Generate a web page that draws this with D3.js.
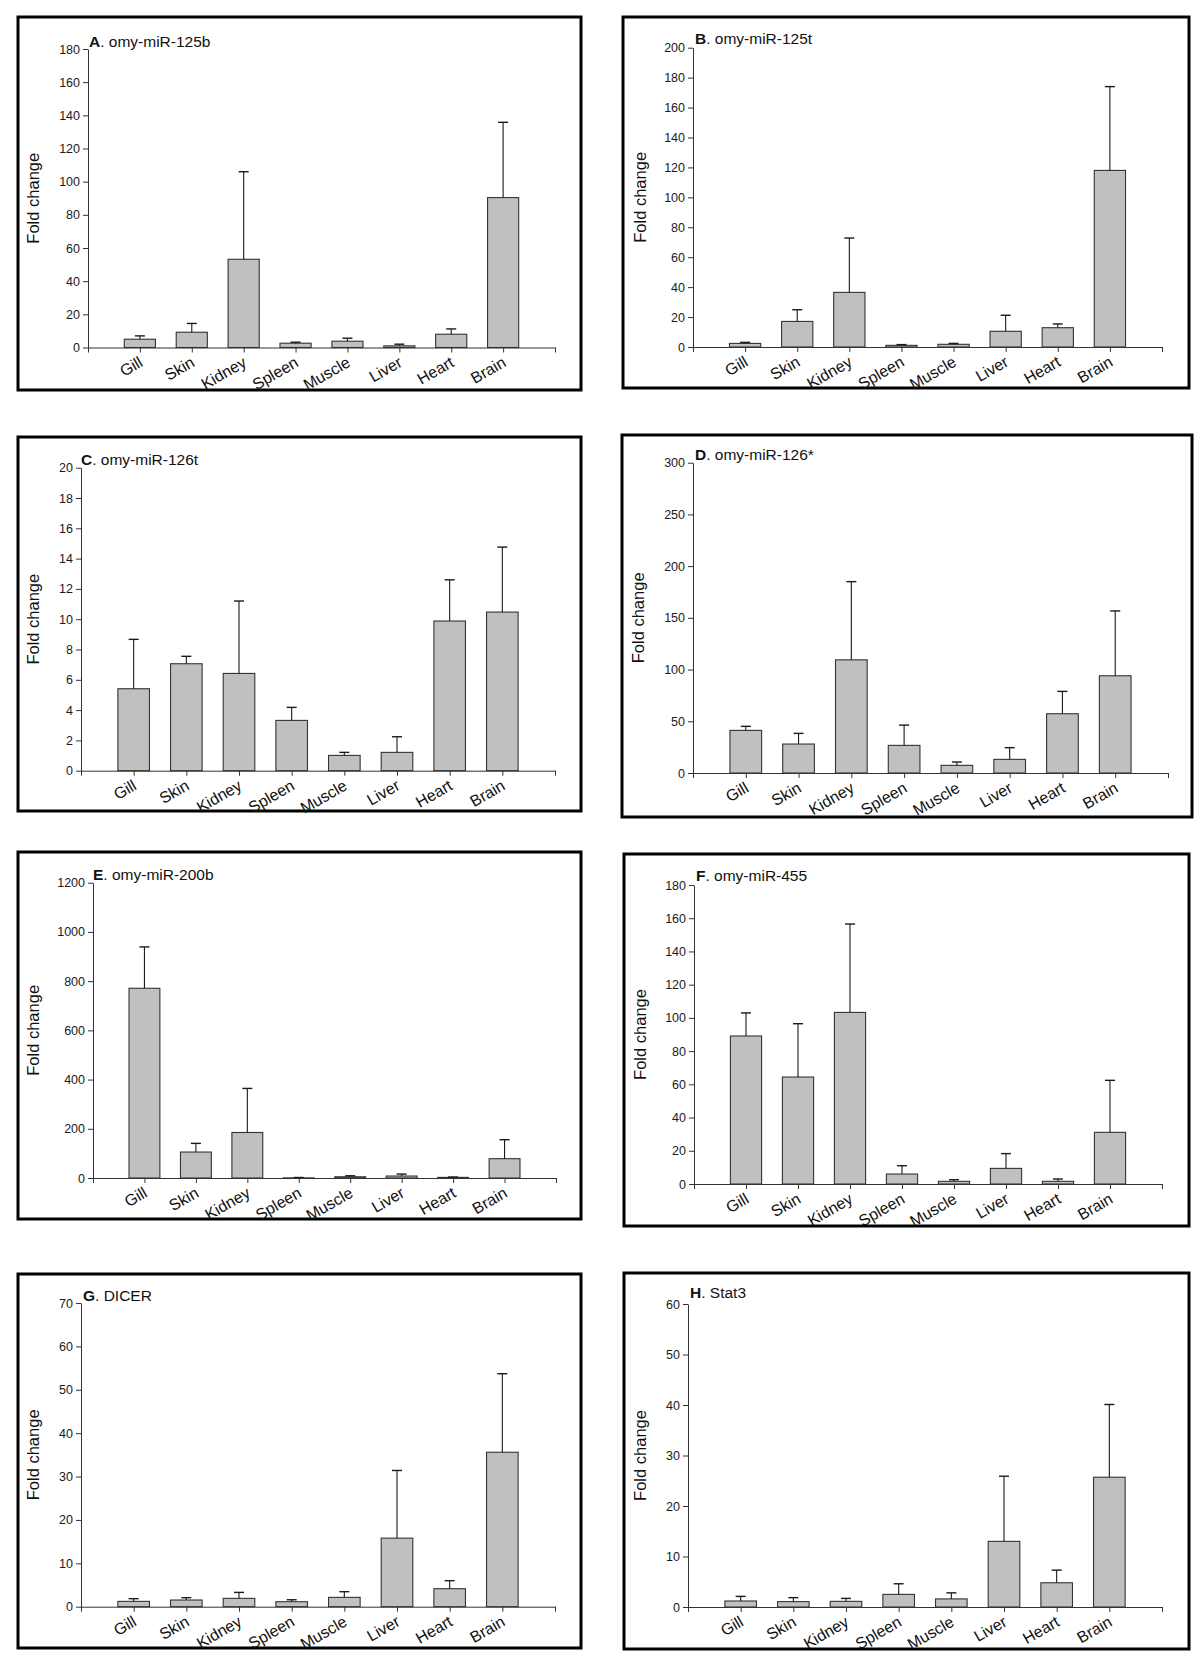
<!DOCTYPE html>
<html lang="en">
<head>
    <meta charset="UTF-8">
    <title>Tissue expression of miRNAs, DICER and Stat3</title>
    <script src="https://d3js.org/d3.v7.min.js"></script>
    <style>
        body { margin: 0; background: #fff; }
        text { font-family: "Liberation Sans", Arial, Helvetica, sans-serif; fill: #111; }
        .axis path, .axis line { stroke: #333; }
        .axis text { font-size: 12.5px; fill: #1a1a1a; }
    </style>
</head>
<body>
    <svg id="chart" width="1200" height="1665"></svg>

    <script>
        // tissues on the x axis, same for all panels
        const tissues = ["Gill", "Skin", "Kidney", "Spleen", "Muscle", "Liver", "Heart", "Brain"];

        // panel letters and gene names
        const letters = ["A", "B", "C", "D", "E", "F", "G", "H"];
        const genes = ["omy-miR-125b", "omy-miR-125t", "omy-miR-126t", "omy-miR-126*",
                       "omy-miR-200b", "omy-miR-455", "DICER", "Stat3"];

        // mean fold change and upper error (mean + SE) per tissue
        const mir125b = [5.0, 9.2, 53.2, 2.6, 3.8, 1.0, 8.0, 90.4];
        const mir125bErr = [7.0, 14.5, 106, 3.2, 5.6, 2.0, 11.2, 135.8];
        const mir125t = [2.4, 17.1, 36.5, 1.1, 1.8, 10.5, 12.9, 118];
        const mir125tErr = [3.1, 24.9, 72.8, 1.6, 2.4, 21.2, 15.4, 174];
        const mir126t = [5.41, 7.06, 6.42, 3.32, 1.01, 1.21, 9.88, 10.47];
        const mir126tErr = [8.67, 7.55, 11.2, 4.18, 1.21, 2.24, 12.6, 14.76];
        const mir126s = [41.2, 28, 109.4, 26.7, 7.4, 13.2, 57.3, 94];
        const mir126sErr = [45.1, 38.3, 185, 46.3, 10.6, 24.5, 78.9, 156.7];
        const mir200b = [771, 105.5, 185, 0.5, 5, 8, 2.5, 78.5];
        const mir200bErr = [939, 140.7, 364, 2, 9, 16, 4, 155.6];
        const mir455 = [89.1, 64.4, 103.3, 6, 1.6, 9.4, 1.6, 31.1];
        const mir455Err = [103, 96.5, 156.5, 11, 2.6, 18.3, 3, 62.4];
        const dicer = [1.23, 1.54, 1.92, 1.15, 2.15, 15.8, 4.15, 35.6];
        const dicerErr = [1.85, 2.08, 3.3, 1.6, 3.46, 31.4, 6.0, 53.7];
        const stat3 = [1.19, 1.06, 1.12, 2.5, 1.6, 13.0, 4.8, 25.7];
        const stat3Err = [2.1, 1.85, 1.7, 4.6, 2.8, 25.9, 7.3, 40.1];

        // y axis top value and tick step per panel
        const yMax = [180, 200, 20, 300, 1200, 180, 70, 60];
        const yStep = [20, 20, 2, 50, 200, 20, 10, 10];

        const means = [mir125b, mir125t, mir126t, mir126s, mir200b, mir455, dicer, stat3];
        const errs = [mir125bErr, mir125tErr, mir126tErr, mir126sErr, mir200bErr, mir455Err, dicerErr, stat3Err];

        // page layout of each panel: frame box, plot area, label positions
        const layout = [
            { box: [18, 17, 581, 390], left: 88, right: 555, bottom: 347.5, top: 49, tx: 89, ty: 47, lx: 33 },
            { box: [623, 17, 1189, 388], left: 693, right: 1162, bottom: 347, top: 47.7, tx: 695, ty: 44, lx: 640 },
            { box: [18, 437, 581, 811], left: 81, right: 555, bottom: 770.7, top: 467.7, tx: 81, ty: 465, lx: 33 },
            { box: [622, 435, 1192, 817], left: 693, right: 1168, bottom: 773, top: 462.7, tx: 695, ty: 460, lx: 638 },
            { box: [18, 852, 581, 1219], left: 93, right: 556, bottom: 1178, top: 882.7, tx: 93, ty: 880, lx: 33 },
            { box: [624, 854, 1189, 1226], left: 694, right: 1162, bottom: 1184, top: 885, tx: 696, ty: 881, lx: 640 },
            { box: [18, 1274, 581, 1648], left: 81, right: 555, bottom: 1606.7, top: 1303, tx: 83, ty: 1301, lx: 33 },
            { box: [624, 1273, 1189, 1649], left: 688, right: 1162, bottom: 1607, top: 1304, tx: 690, ty: 1298, lx: 640 }
        ];

        const svg = d3.select("#chart");

        layout.forEach(function (p, i) {
            const g = svg.append("g");
            const vals = means[i];
            const upper = errs[i];

            // frame round the panel
            g.append("rect")
                .attr("x", p.box[0])
                .attr("y", p.box[1])
                .attr("width", p.box[2] - p.box[0])
                .attr("height", p.box[3] - p.box[1])
                .attr("fill", "none")
                .attr("stroke", "#000")
                .attr("stroke-width", 3);

            // tissue slots 1..8, axis runs from 0 to 9
            const x = d3.scaleLinear()
                .domain([0, tissues.length + 1])
                .range([p.left, p.right]);
            const y = d3.scaleLinear()
                .domain([0, yMax[i]])
                .range([p.bottom, p.top]);
            const step = x(1) - x(0);
            const bw = step * 0.6;

            // bars
            g.selectAll(".bar")
                .data(vals)
                .enter().append("rect")
                .attr("class", "bar")
                .attr("x", (d, k) => x(k + 1) - bw / 2)
                .attr("y", d => y(d))
                .attr("width", bw)
                .attr("height", d => y(0) - y(d))
                .attr("fill", "#c0c0c0")
                .attr("stroke", "#333")
                .attr("stroke-width", 1.1);

            // error bars, upper side only
            g.selectAll(".err")
                .data(upper)
                .enter().append("line")
                .attr("x1", (d, k) => x(k + 1))
                .attr("x2", (d, k) => x(k + 1))
                .attr("y1", (d, k) => y(vals[k]))
                .attr("y2", d => y(d))
                .attr("stroke", "#1a1a1a")
                .attr("stroke-width", 1.1);
            g.selectAll(".cap")
                .data(upper)
                .enter().append("line")
                .attr("x1", (d, k) => x(k + 1) - 5)
                .attr("x2", (d, k) => x(k + 1) + 5)
                .attr("y1", d => y(d))
                .attr("y2", d => y(d))
                .attr("stroke", "#1a1a1a")
                .attr("stroke-width", 1.4);

            // y axis
            g.append("g")
                .attr("class", "axis")
                .attr("transform", `translate(${p.left},0)`)
                .call(d3.axisLeft(y)
                    .tickValues(d3.range(0, yMax[i] + yStep[i] / 2, yStep[i]))
                    .tickFormat(d3.format("d"))
                    .tickSize(5)
                    .tickSizeOuter(0)
                    .tickPadding(3));

            // x axis, ticks at every slot
            g.append("g")
                .attr("class", "axis")
                .attr("transform", `translate(0,${p.bottom})`)
                .call(d3.axisBottom(x)
                    .tickValues(d3.range(0, tissues.length + 2))
                    .tickFormat("")
                    .tickSize(5)
                    .tickSizeOuter(0));

            // tissue labels, slanted
            g.selectAll(".cat")
                .data(tissues)
                .enter().append("text")
                .attr("class", "cat")
                .attr("transform", (d, k) => `translate(${x(k + 1) + 4},${p.bottom + 18}) rotate(-30)`)
                .attr("text-anchor", "end")
                .style("font-size", "16px")
                .text(d => d);

            // y label
            g.append("text")
                .attr("transform", `translate(${p.lx + 6},${(p.top + p.bottom) / 2}) rotate(-90)`)
                .attr("text-anchor", "middle")
                .style("font-size", "16.5px")
                .text("Fold change");

            // panel title
            const t = g.append("text")
                .attr("x", p.tx)
                .attr("y", p.ty)
                .style("font-size", "15.5px");
            t.append("tspan").style("font-weight", "bold").text(letters[i]);
            t.append("tspan").text(". " + genes[i]);
        });
    </script>
</body>
</html>
